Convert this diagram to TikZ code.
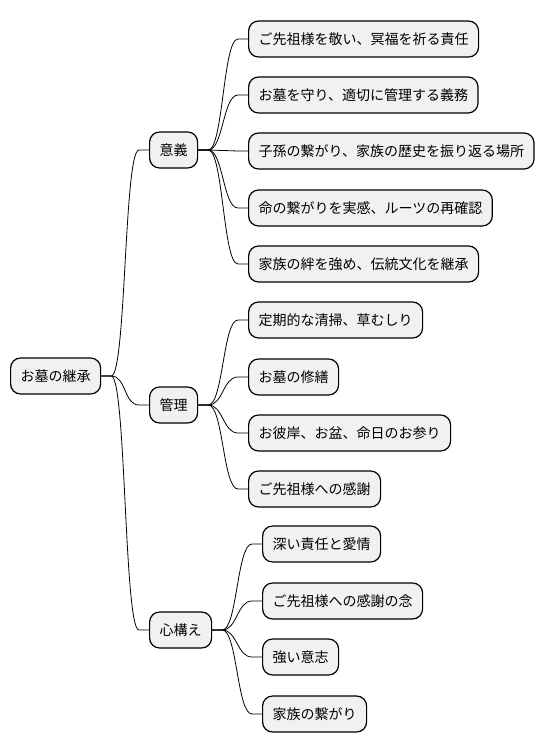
\documentclass[tikz,border=0pt]{standalone}
\usepackage{fontspec}
\newfontfamily\cjk{Noto Sans CJK JP}
\definecolor{boxgray}{HTML}{F1F1F1}
\tikzset{
  topic/.style={draw,fill=boxgray,line width=1.2pt,rounded corners=10pt,
    minimum height=36pt,inner xsep=10pt,anchor=west,
    font=\cjk\fontsize{14pt}{16pt}\selectfont},
  link/.style={to path={-- ++(10,0) .. controls +(15,0) and +(-15,0)
    .. ([xshift=-10pt]\tikztotarget) -- (\tikztotarget)}}
}
\begin{document}
\begin{tikzpicture}[x=1pt,y=-1pt,line width=0.8pt]
  \useasboundingbox (0,0) rectangle (544,752);
  \node[topic] (root) at (10,376) {お墓の継承};
  \node[topic] (yigi) at (149,150) {意義};
  \node[topic] (kanri) at (149,405) {管理};
  \node[topic] (kokoro) at (149,630) {心構え};
  \node[topic] (a1) at (248,39) {ご先祖様を敬い、冥福を祈る責任};
  \node[topic] (a2) at (248,95) {お墓を守り、適切に管理する義務};
  \node[topic] (a3) at (248,151) {子孫の繋がり、家族の歴史を振り返る場所};
  \node[topic] (a4) at (248,208) {命の繋がりを実感、ルーツの再確認};
  \node[topic] (a5) at (248,264) {家族の絆を強め、伝統文化を継承};
  \node[topic] (b1) at (248,320) {定期的な清掃、草むしり};
  \node[topic] (b2) at (248,377) {お墓の修繕};
  \node[topic] (b3) at (248,433) {お彼岸、お盆、命日のお参り};
  \node[topic] (b4) at (248,489) {ご先祖様への感謝};
  \node[topic] (c1) at (262,544) {深い責任と愛情};
  \node[topic] (c2) at (262,601) {ご先祖様への感謝の念};
  \node[topic] (c3) at (262,657) {強い意志};
  \node[topic] (c4) at (262,714) {家族の繋がり};
  \draw (root.east) to[link] (yigi.west);
  \draw (root.east) to[link] (kanri.west);
  \draw (root.east) to[link] (kokoro.west);
  \draw (yigi.east) to[link] (a1.west);
  \draw (yigi.east) to[link] (a2.west);
  \draw (yigi.east) to[link] (a3.west);
  \draw (yigi.east) to[link] (a4.west);
  \draw (yigi.east) to[link] (a5.west);
  \draw (kanri.east) to[link] (b1.west);
  \draw (kanri.east) to[link] (b2.west);
  \draw (kanri.east) to[link] (b3.west);
  \draw (kanri.east) to[link] (b4.west);
  \draw (kokoro.east) to[link] (c1.west);
  \draw (kokoro.east) to[link] (c2.west);
  \draw (kokoro.east) to[link] (c3.west);
  \draw (kokoro.east) to[link] (c4.west);
\end{tikzpicture}
\end{document}
